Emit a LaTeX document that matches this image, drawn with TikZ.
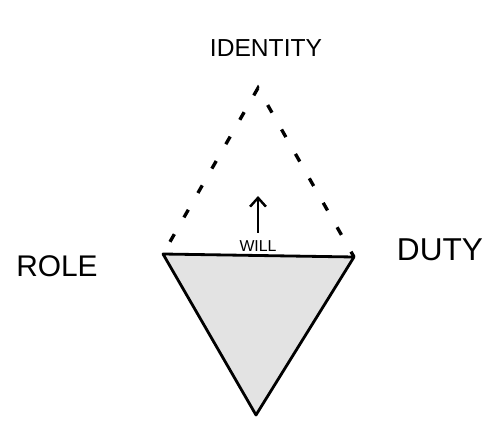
\documentclass[tikz,border=0pt]{standalone}
\usepackage{fontspec}
\setmainfont{Liberation Sans}
\usetikzlibrary{arrows.meta}
\begin{document}
\begin{tikzpicture}[x=0.02cm,y=-0.02cm]
\useasboundingbox(0,0)rectangle(501,426);
\coordinate(L)at(163,254);\coordinate(R)at(354,257);\coordinate(B)at(256,415);\coordinate(T)at(258,88);
\fill[gray!22](L)--(R)--(B)--cycle;\draw[line width=1.6pt,line join=round](L)--(R)--(B)--cycle;
\draw[line width=1.9pt,dash pattern=on 5pt off 11pt,dash phase=8pt](L)--(T)--(R);
\node[font=\fontsize{9}{10}\selectfont,inner sep=1pt,anchor=base](will)at(258,251){WILL};\coordinate(up)at(258,196);
\draw[line width=1.4pt,-{Straight Barb[length=5pt,width=9pt]}]([yshift=3pt]will.north)--(up);
\node[font=\fontsize{14}{16}\selectfont](id)at(266,48){IDENTITY};
\node[font=\fontsize{17}{19}\selectfont](role)at(57,266){ROLE};
\node[font=\fontsize{18}{20}\selectfont](duty)at(440,250){DUTY};
\end{tikzpicture}
\end{document}
